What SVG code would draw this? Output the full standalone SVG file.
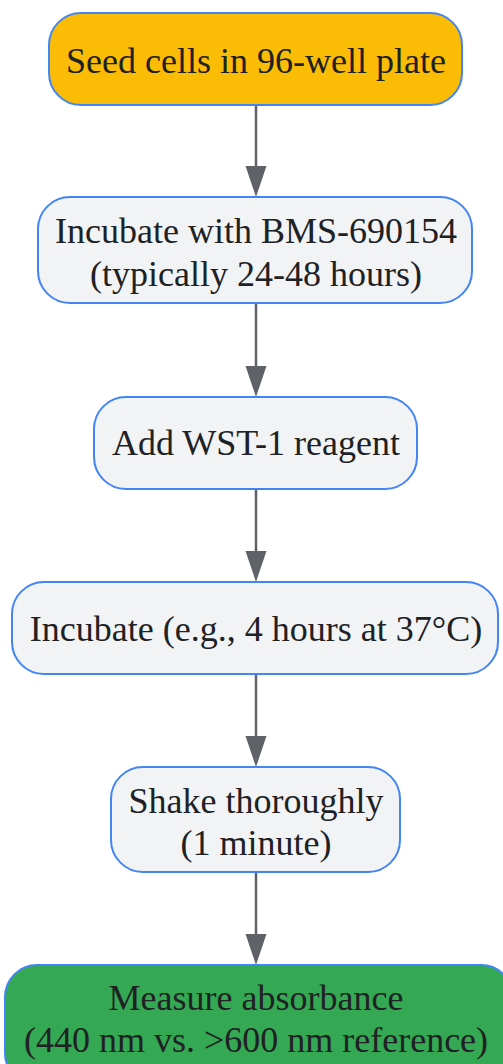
<svg xmlns="http://www.w3.org/2000/svg" width="503" height="1064" viewBox="0 0 503 1064">
<defs>
<style>
.n rect{stroke:#4285F4;stroke-width:2}
.g{fill:#F1F3F4}
text{font-family:"Liberation Serif","Times New Roman",serif;font-size:36px;fill:#202124;text-anchor:middle}
.c line{stroke:#5F6368;stroke-width:2.5}
.c polygon{fill:#5F6368}
</style>
</defs>
<rect width="503" height="1064" fill="#ffffff"/>
<g class="c" id="connectors">
<line x1="256" y1="105" x2="256" y2="168"/><polygon points="245.5,166 266.5,166 256,197"/>
<line x1="256" y1="303" x2="256" y2="368"/><polygon points="245.5,366 266.5,366 256,397"/>
<line x1="256" y1="489" x2="256" y2="553"/><polygon points="245.5,551 266.5,551 256,582"/>
<line x1="256" y1="674" x2="256" y2="738"/><polygon points="245.5,736 266.5,736 256,767"/>
<line x1="256" y1="872" x2="256" y2="936"/><polygon points="245.5,934 266.5,934 256,965"/>
</g>
<g class="n" id="n1"><rect x="49" y="13" width="413" height="92" rx="32" fill="#FBBC05"/><text x="256" y="73">Seed cells in 96-well plate</text></g>
<g class="n" id="n2"><rect class="g" x="38" y="197" width="434" height="106" rx="32"/><text x="256" y="243">Incubate with BMS-690154</text><text x="256" y="286">(typically 24-48 hours)</text></g>
<g class="n" id="n3"><rect class="g" x="94" y="397" width="323" height="92" rx="32"/><text x="256" y="455">Add WST-1 reagent</text></g>
<g class="n" id="n4"><rect class="g" x="12" y="582" width="486" height="92" rx="32"/><text x="256" y="641">Incubate (e.g., 4 hours at 37°C)</text></g>
<g class="n" id="n5"><rect class="g" x="111" y="767" width="289" height="105" rx="32"/><text x="256" y="813">Shake thoroughly</text><text x="256" y="855">(1 minute)</text></g>
<g class="n" id="n6"><rect x="5" y="965" width="508" height="120" rx="32" fill="#34A853"/><text x="256" y="1010">Measure absorbance</text><text x="256" y="1052">(440 nm vs. &gt;600 nm reference)</text></g>
</svg>
